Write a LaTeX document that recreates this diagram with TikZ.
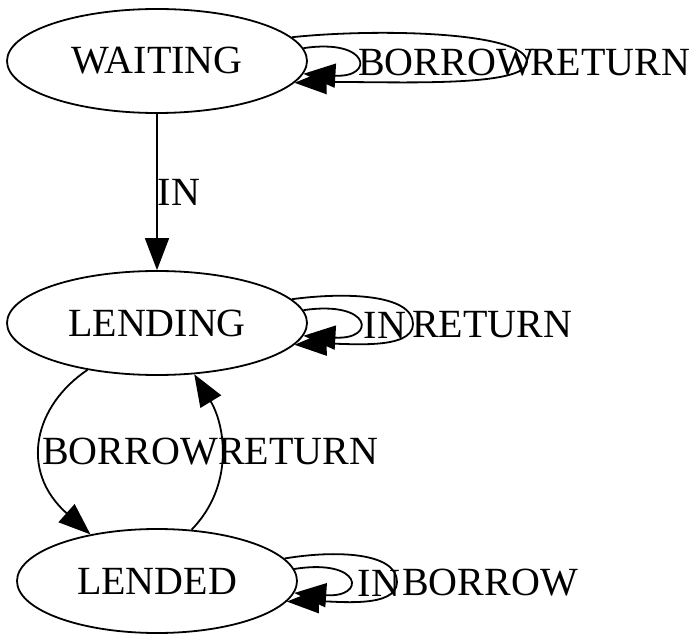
\documentclass[tikz,border=0pt]{standalone}
\usepackage{fontspec}
\setmainfont{Liberation Serif}
\usetikzlibrary{arrows.meta,shapes.geometric}
\begin{document}
\begin{tikzpicture}[x=1pt,y=-1pt,
  font=\fontsize{40}{40}\selectfont,
  state/.style={ellipse, draw, line width=1.8pt, minimum height=104pt, inner sep=0pt},
  edge/.style={line width=1.8pt, -{Triangle[length=32pt,width=24pt]}},
  lbl/.style={inner sep=0pt}]
\useasboundingbox (0,0) rectangle (699,644);
\node[state, minimum width=300pt] (W) at (157,61) {WAITING};
\node[state, minimum width=300pt] (L) at (157,323) {LENDING};
\node[state, minimum width=280pt] (D) at (157,581) {LENDED};
% labels
\node[lbl] (lIN) at (179,192) {IN};
\node[lbl] (lB) at (130,452) {BORROW};
\node[lbl] (lR) at (298,452) {RETURN};
\node[lbl] (wB) at (446,63) {BORROW};
\node[lbl] (wR) at (610,63) {RETURN};
\node[lbl] (nI) at (385,325) {IN};
\node[lbl] (nR) at (492,325) {RETURN};
\node[lbl] (dI) at (379,583) {IN};
\node[lbl] (dB) at (490,583) {BORROW};
% edges
\draw[edge] (W.south) -- (L.north);
\draw[edge] (L.214) .. controls (35,405) and (18,470) .. (D.145);
\draw[edge] (D.56) .. controls (235,485) and (225,425) .. (L.306);
% WAITING loops
\draw[edge] (W.5) .. controls (370,38) and (375,78) .. (W.-5);
\draw[edge] (W.10) .. controls (380,28) and (527,32) .. (527,62) .. controls (527,89) and (380,81) .. (W.-9);
% LENDING loops
\draw[edge] (L.5) .. controls (372,300) and (377,340) .. (L.-5);
\draw[edge] (L.10) .. controls (345,292) and (413,294) .. (413,324) .. controls (413,351) and (345,343) .. (L.-9);
% LENDED loops
\draw[edge] (D.5) .. controls (362,558) and (367,598) .. (D.-5);
\draw[edge] (D.10) .. controls (335,550) and (397,552) .. (397,582) .. controls (397,609) and (335,601) .. (D.-9);
\end{tikzpicture}
\end{document}
